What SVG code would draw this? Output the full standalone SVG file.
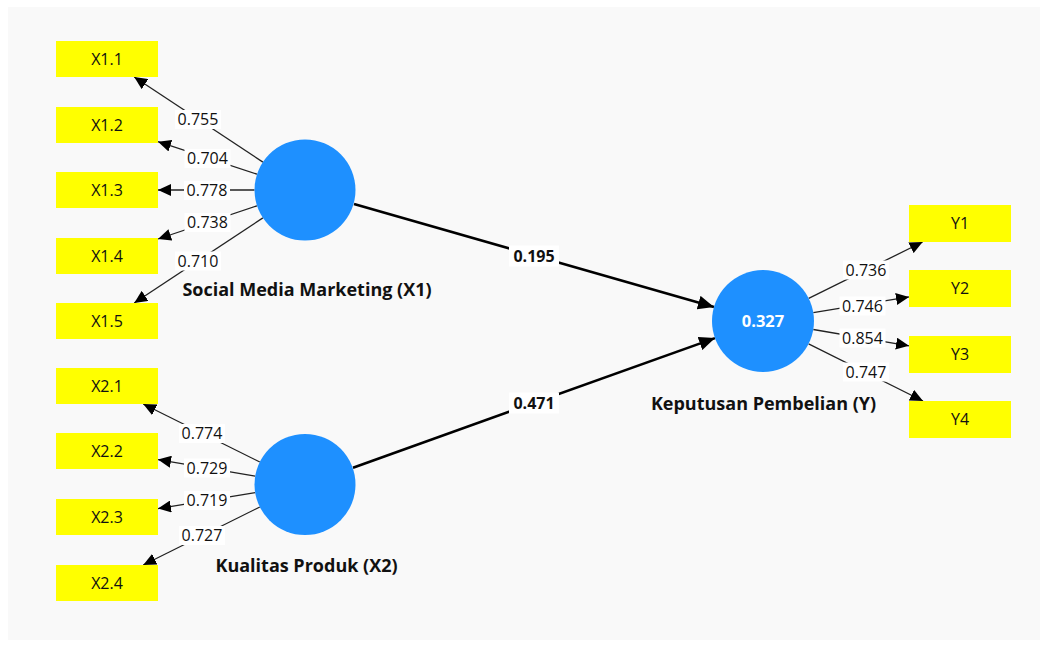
<svg xmlns="http://www.w3.org/2000/svg" width="1054" height="646" viewBox="0 0 1054 646">
  <style>
    .ind rect { fill: #ffff00; }
    .ind text { font-family: "Open Sans", "Noto Sans", sans-serif; font-size: 16px; fill: #111; text-anchor: middle; }
    .lv circle { fill: #1e90ff; }
    .lv-name { font-family: "Open Sans", "Noto Sans", sans-serif; font-size: 18px; font-weight: bold; fill: #111; text-anchor: middle; }
    .r2 { font-family: "Open Sans", "Noto Sans", sans-serif; font-size: 16.5px; font-weight: bold; fill: #fff; text-anchor: middle; }
    .load { stroke: #222; stroke-width: 1.3; fill: none; marker-end: url(#arrowSmall); }
    .path { stroke: #000; stroke-width: 2.6; fill: none; marker-end: url(#arrowBig); }
    .lbl rect { fill: #fff; }
    .lbl text { font-family: "Open Sans", "Noto Sans", sans-serif; font-size: 16px; fill: #111; text-anchor: middle; }
    .lbl.bold text { font-weight: bold; font-size: 16px; }
  </style>
  <defs>
    <marker id="arrowSmall" markerUnits="userSpaceOnUse" markerWidth="14" markerHeight="12" refX="13" refY="6" orient="auto">
      <path d="M0,0 L13,6 L0,12 z" fill="#000"/>
    </marker>
    <marker id="arrowBig" markerUnits="userSpaceOnUse" markerWidth="17" markerHeight="14" refX="16" refY="7" orient="auto">
      <path d="M0,0 L16,7 L0,14 z" fill="#000"/>
    </marker>
  </defs>

  <!-- canvas -->
  <rect x="0" y="0" width="1054" height="646" fill="#ffffff"/>
  <rect x="8" y="7" width="1032" height="633" fill="#f9f9f9"/>

  <!-- connectors -->
  <g id="connectors">
    <!-- outer loadings: Social Media Marketing -->
    <line class="load" x1="262.9" y1="162.1" x2="134.2" y2="77"/>
    <line class="load" x1="257" y1="174.2" x2="158" y2="141.7"/>
    <line class="load" x1="254.5" y1="190" x2="158" y2="190"/>
    <line class="load" x1="257" y1="205.8" x2="158" y2="239"/>
    <line class="load" x1="262.9" y1="217.9" x2="134.2" y2="303"/>
    <!-- outer loadings: Kualitas Produk -->
    <line class="load" x1="259.8" y1="462" x2="143.2" y2="404"/>
    <line class="load" x1="255.2" y1="476.1" x2="158" y2="459.6"/>
    <line class="load" x1="255.2" y1="492.7" x2="158" y2="508.6"/>
    <line class="load" x1="259.8" y1="507" x2="143.2" y2="565"/>
    <!-- outer loadings: Keputusan Pembelian -->
    <line class="load" x1="808.7" y1="298.4" x2="922.6" y2="242"/>
    <line class="load" x1="813.3" y1="312.7" x2="909" y2="296.9"/>
    <line class="load" x1="813.3" y1="329.5" x2="909" y2="345.8"/>
    <line class="load" x1="808.6" y1="343.8" x2="923" y2="401"/>
    <!-- inner paths -->
    <line class="path" x1="354" y1="204" x2="714" y2="307"/>
    <line class="path" x1="353" y1="467.7" x2="715" y2="338.1"/>

    <!-- loading values -->
    <g class="lbl"><rect x="175" y="110" width="46" height="19"/><text x="198" y="125">0.755</text></g>
    <g class="lbl"><rect x="184.5" y="149" width="46" height="19"/><text x="207.5" y="164">0.704</text></g>
    <g class="lbl"><rect x="184" y="181" width="46" height="19"/><text x="207" y="196">0.778</text></g>
    <g class="lbl"><rect x="184.5" y="213" width="46" height="19"/><text x="207.5" y="228">0.738</text></g>
    <g class="lbl"><rect x="175" y="251.5" width="46" height="19"/><text x="198" y="266.5">0.710</text></g>

    <g class="lbl"><rect x="179" y="424" width="46" height="19"/><text x="202" y="439">0.774</text></g>
    <g class="lbl"><rect x="184" y="458.5" width="46" height="19"/><text x="207" y="473.5">0.729</text></g>
    <g class="lbl"><rect x="184" y="491" width="46" height="19"/><text x="207" y="506">0.719</text></g>
    <g class="lbl"><rect x="179" y="526" width="46" height="19"/><text x="202" y="541">0.727</text></g>

    <g class="lbl"><rect x="843" y="260.5" width="46" height="19"/><text x="866" y="275.5">0.736</text></g>
    <g class="lbl"><rect x="839.5" y="296.5" width="46" height="19"/><text x="862.5" y="311.5">0.746</text></g>
    <g class="lbl"><rect x="839.5" y="328.5" width="46" height="19"/><text x="862.5" y="343.5">0.854</text></g>
    <g class="lbl"><rect x="843" y="362.5" width="46" height="19"/><text x="866" y="377.5">0.747</text></g>

    <!-- path coefficients -->
    <g class="lbl bold"><rect x="509" y="245.5" width="50" height="21"/><text x="534" y="261.5">0.195</text></g>
    <g class="lbl bold"><rect x="509" y="392.5" width="50" height="21"/><text x="534" y="408.5">0.471</text></g>
  </g>

  <!-- indicators -->
  <g id="X1.1" class="ind"><rect x="56" y="41" width="102" height="36"/><text x="107" y="64.5">X1.1</text></g>
  <g id="X1.2" class="ind"><rect x="56" y="107" width="102" height="36"/><text x="107" y="130.5">X1.2</text></g>
  <g id="X1.3" class="ind"><rect x="56" y="172" width="102" height="36"/><text x="107" y="195.5">X1.3</text></g>
  <g id="X1.4" class="ind"><rect x="56" y="238" width="102" height="36"/><text x="107" y="261.5">X1.4</text></g>
  <g id="X1.5" class="ind"><rect x="56" y="303" width="102" height="36"/><text x="107" y="326.5">X1.5</text></g>

  <g id="X2.1" class="ind"><rect x="56" y="368" width="102" height="36"/><text x="107" y="391.5">X2.1</text></g>
  <g id="X2.2" class="ind"><rect x="56" y="433" width="102" height="36"/><text x="107" y="456.5">X2.2</text></g>
  <g id="X2.3" class="ind"><rect x="56" y="499" width="102" height="36"/><text x="107" y="522.5">X2.3</text></g>
  <g id="X2.4" class="ind"><rect x="56" y="565" width="102" height="36"/><text x="107" y="588.5">X2.4</text></g>

  <g id="Y1" class="ind"><rect x="909" y="205" width="102" height="37"/><text x="960" y="229">Y1</text></g>
  <g id="Y2" class="ind"><rect x="909" y="270" width="102" height="37"/><text x="960" y="294">Y2</text></g>
  <g id="Y3" class="ind"><rect x="909" y="336" width="102" height="37"/><text x="960" y="360">Y3</text></g>
  <g id="Y4" class="ind"><rect x="909" y="401" width="102" height="37"/><text x="960" y="425">Y4</text></g>

  <!-- latent variables -->
  <g id="X1" class="lv">
    <circle cx="305" cy="190" r="50.5"/>
    <text class="lv-name" x="307" y="296">Social Media Marketing (X1)</text>
  </g>
  <g id="X2" class="lv">
    <circle cx="305" cy="484.5" r="50.5"/>
    <text class="lv-name" x="306.5" y="572">Kualitas Produk (X2)</text>
  </g>
  <g id="Y" class="lv">
    <circle cx="763" cy="321" r="51"/>
    <text class="r2" x="763" y="327">0.327</text>
    <text class="lv-name" x="763.5" y="409.5">Keputusan Pembelian (Y)</text>
  </g>
</svg>
